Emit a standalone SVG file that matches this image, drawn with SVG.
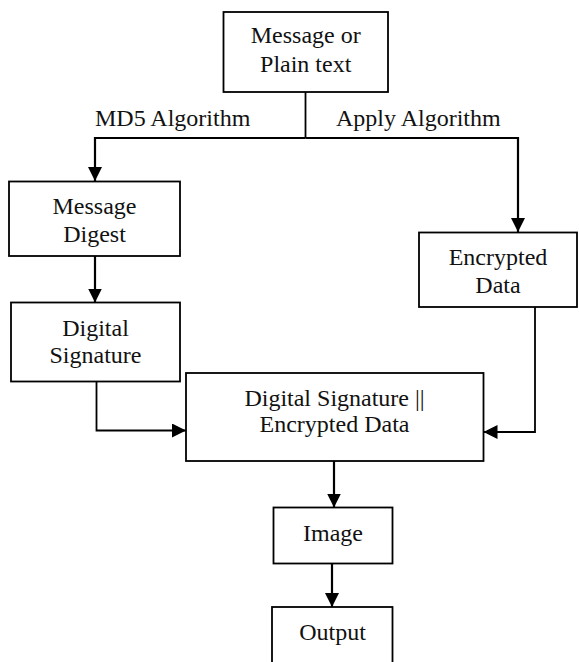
<svg xmlns="http://www.w3.org/2000/svg" width="579" height="662" viewBox="0 0 579 662">
  <style>
    .box { fill: #fff; stroke: #000; stroke-width: 1.8; }
    .lbl { font-family: "Liberation Serif", "Times New Roman", "DejaVu Serif", serif; font-size: 24px; fill: #111; }
    .mid { text-anchor: middle; }
    .wire { fill: none; stroke: #000; stroke-width: 2.2; }
    .thin { fill: none; stroke: #000; stroke-width: 1.8; }
  </style>
  <defs>
    <marker id="arrow" markerUnits="userSpaceOnUse" markerWidth="14" markerHeight="14" viewBox="0 0 14 14" refX="14" refY="7" orient="auto">
      <path d="M0,0 L14,7 L0,14 z" fill="#000"/>
    </marker>
  </defs>

  <!-- connectors -->
  <g id="connectors">
    <path class="thin" d="M305.5,92 V138"/>
    <path class="wire" d="M305.5,138 H95 V181" marker-end="url(#arrow)"/>
    <path class="wire" d="M305.5,138 H518 V232" marker-end="url(#arrow)"/>
    <path class="wire" d="M95,256 V302.5" marker-end="url(#arrow)"/>
    <path class="thin" d="M96.5,381.5 V430.5 H186" marker-end="url(#arrow)"/>
    <path class="thin" d="M535,307 V432 H483.5" marker-end="url(#arrow)"/>
    <path class="wire" d="M334,461 V507.5" marker-end="url(#arrow)"/>
    <path class="wire" d="M332,563.5 V607" marker-end="url(#arrow)"/>
    <text class="lbl" x="95" y="126">MD5 Algorithm</text>
    <text class="lbl" x="336" y="126">Apply Algorithm</text>
  </g>

  <g id="plain-text">
    <rect class="box" x="223.5" y="12" width="164.5" height="80"/>
    <text class="lbl mid" x="305.7" y="43">Message or</text>
    <text class="lbl mid" x="305.7" y="72">Plain text</text>
  </g>

  <g id="message-digest">
    <rect class="box" x="9" y="181.5" width="171" height="74.5"/>
    <text class="lbl mid" x="94.5" y="214">Message</text>
    <text class="lbl mid" x="94.5" y="241.5">Digest</text>
  </g>

  <g id="encrypted-data">
    <rect class="box" x="419" y="232.5" width="158" height="74.5"/>
    <text class="lbl mid" x="498" y="265">Encrypted</text>
    <text class="lbl mid" x="498" y="293">Data</text>
  </g>

  <g id="digital-signature">
    <rect class="box" x="11" y="302.5" width="169" height="79"/>
    <text class="lbl mid" x="95.5" y="336">Digital</text>
    <text class="lbl mid" x="95.5" y="362.5">Signature</text>
  </g>

  <g id="combined">
    <rect class="box" x="186" y="373" width="297.5" height="88"/>
    <text class="lbl mid" x="334.5" y="406">Digital Signature ||</text>
    <text class="lbl mid" x="334.5" y="432">Encrypted Data</text>
  </g>

  <g id="image">
    <rect class="box" x="273.5" y="507.5" width="119" height="56"/>
    <text class="lbl mid" x="333" y="540.5">Image</text>
  </g>

  <g id="output">
    <rect class="box" x="272" y="607" width="120.5" height="70"/>
    <text class="lbl mid" x="332.5" y="640">Output</text>
  </g>
</svg>
